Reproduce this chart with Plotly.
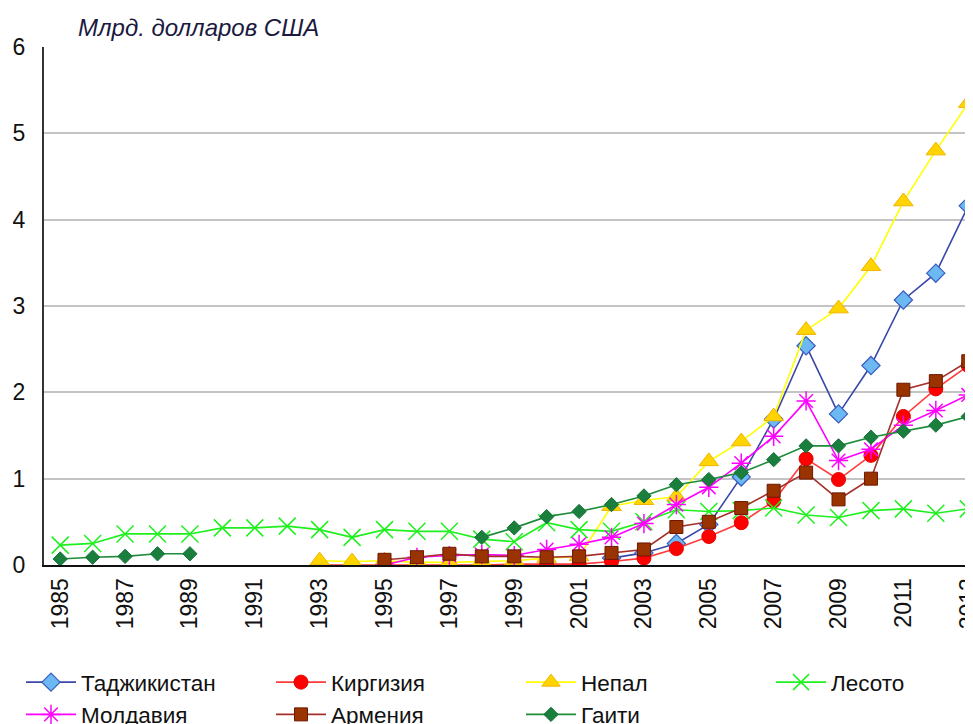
import plotly.graph_objects as go

years = list(range(1985, 2014))
N = None

tajikistan = [N]*17 + [0.08, 0.14, 0.25, 0.47, 1.02, 1.69, 2.54, 1.75, 2.31, 3.07, 3.38, 4.16]
kyrgyzstan = [N]*8 + [0.0, 0.0, 0.0, 0.0, 0.0, 0.0, 0.01, 0.01, 0.01, 0.04, 0.08, 0.19, 0.33, 0.49, 0.74, 1.23, 0.99, 1.27, 1.72, 2.04, 2.31]
nepal = [N]*8 + [0.05, 0.04, 0.05, 0.03, 0.03, 0.04, 0.05, 0.08, 0.1, 0.68, 0.75, 0.79, 1.2, 1.43, 1.72, 2.72, 2.97, 3.46, 4.21, 4.8, 5.35]
lesotho = [0.23, 0.25, 0.36, 0.36, 0.36, 0.43, 0.43, 0.45, 0.41, 0.32, 0.41, 0.39, 0.39, 0.3, 0.27, 0.49, 0.41, 0.39, 0.5, 0.64, 0.62, 0.63, 0.66, 0.58, 0.55, 0.63, 0.65, 0.6, 0.65]
moldova = [N]*10 + [0.0, 0.09, 0.11, 0.12, 0.11, 0.18, 0.24, 0.32, 0.48, 0.7, 0.9, 1.18, 1.49, 1.9, 1.21, 1.34, 1.62, 1.79, 1.97]
armenia = [N]*10 + [0.06, 0.09, 0.13, 0.1, 0.1, 0.09, 0.1, 0.14, 0.18, 0.44, 0.5, 0.66, 0.86, 1.07, 0.76, 1.0, 2.03, 2.13, 2.36]
haiti = [0.07, 0.09, 0.1, 0.13, 0.13] + [N]*8 + [0.32, 0.43, 0.56, 0.62, 0.7, 0.8, 0.93, 0.99, 1.07, 1.22, 1.38, 1.38, 1.48, 1.55, 1.62, 1.72]

xticks = list(range(1985, 2014, 2))
yticks = [0, 1, 2, 3, 4, 5, 6]

FONT = "Liberation Sans, Arial, sans-serif"
TICK_FS = 23
LEG_FS = 22.5
TITLE_FS = 24

series = [
    ("Таджикистан", tajikistan, "#3A48A8", dict(symbol="diamond", size=14, color="#6CB8F2", line=dict(color="#3A5CC0", width=1.2)), "legend"),
    ("Киргизия", kyrgyzstan, "#FF3B3B", dict(symbol="circle", size=14, color="#FF0000", line=dict(color="#E00000", width=1)), "legend2"),
    ("Непал", nepal, "#FFFF00", dict(symbol="triangle-up", size=17, color="#FFD400", line=dict(color="#F0B400", width=1)), "legend3"),
    ("Лесото", lesotho, "#1EF01E", dict(symbol="x-thin-open", size=17, color="#1EF01E", line=dict(color="#1EF01E", width=1.5)), "legend4"),
    ("Молдавия", moldova, "#FF00FF", dict(symbol="asterisk-open", size=16, color="#FF00FF", line=dict(color="#FF00FF", width=1.5)), "legend"),
    ("Армения", armenia, "#A3302B", dict(symbol="square", size=13, color="#993300", line=dict(color="#6E1800", width=1)), "legend2"),
    ("Гаити", haiti, "#1E8C3A", dict(symbol="diamond", size=11, color="#1A7F3C", line=dict(color="#15703A", width=1)), "legend3"),
]

fig = go.Figure()
for name, vals, lc, mk, lg in series:
    fig.add_trace(go.Scatter(
        x=years, y=vals, name=name, mode="lines+markers",
        line=dict(color=lc, width=1.6), marker=mk, connectgaps=False,
        legend=lg, cliponaxis=True,
    ))

# page body has an 8px margin; figure coordinates are window coordinates minus 8
OFF = 8
W, H = 973 - OFF, 724 - OFF
L, T, R = 44 - OFF, 47 - OFF, 0
B = H - (565 - OFF)
pw = W - L - R
ph = H - T - B

def lx(px):
    return (px - OFF - L) / pw

def ly(py):
    return (H - B - (py - OFF)) / ph

leg_common = dict(
    orientation="v", yanchor="top", xanchor="left",
    font=dict(family=FONT, size=LEG_FS, color="#111111"),
    itemwidth=50, bgcolor="rgba(0,0,0,0)", borderwidth=0, tracegroupgap=0,
)
legy = ly(661)

fig.update_layout(
    width=W, height=H,
    margin=dict(l=L, r=R, t=T, b=B, autoexpand=False),
    paper_bgcolor="white", plot_bgcolor="white",
    font=dict(family=FONT, size=TICK_FS, color="#111111"),
    showlegend=True,
    legend=dict(x=lx(21), y=legy, **leg_common),
    legend2=dict(x=lx(271), y=legy, **leg_common),
    legend3=dict(x=lx(521), y=legy, **leg_common),
    legend4=dict(x=lx(771), y=legy, **leg_common),
    xaxis=dict(
        range=[1984.5, 1984.5 + pw / 32.43],
        tickmode="array", tickvals=xticks, ticktext=[str(v) for v in xticks],
        tickangle=-90, showgrid=False, zeroline=False,
        showline=True, linecolor="#111111", linewidth=2,
        ticks="", ticklabelstandoff=2, ticklabeloverflow="allow",
        tickfont=dict(family=FONT, size=TICK_FS, color="#111111"),
    ),
    yaxis=dict(
        range=[0, 6], tickmode="array", tickvals=yticks,
        showgrid=True, gridcolor="#C4C4C4", gridwidth=2,
        zeroline=False, showline=True, linecolor="#333333", linewidth=2,
        ticks="", ticklabelstandoff=12,
        tickfont=dict(family=FONT, size=TICK_FS, color="#111111"),
    ),
    annotations=[dict(
        text="<i>Млрд. долларов США</i>", xref="paper", yref="paper",
        x=lx(76), y=ly(27), xanchor="left", yanchor="middle", showarrow=False,
        font=dict(family=FONT, size=TITLE_FS, color="#1A1A40"),
    )],
)

fig.write_html("out.html")
